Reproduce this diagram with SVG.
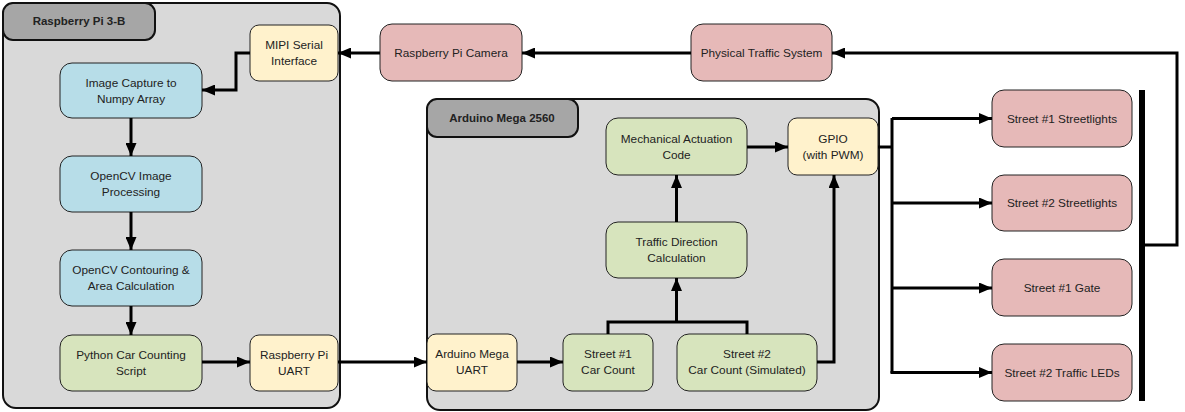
<svg xmlns="http://www.w3.org/2000/svg" width="1185" height="412" viewBox="0 0 1185 412">
<style>
text{font-family:"Liberation Sans",Arial,sans-serif;font-size:11.8px;fill:#222;text-anchor:middle;dominant-baseline:central}
.title{font-weight:bold;font-size:11.5px}
.cont{fill:#d9d9d9;stroke:#111;stroke-width:2}
.tab{fill:#a6a6a6;stroke:#111;stroke-width:2}
.box{stroke:#222;stroke-width:1}
.blue{fill:#b7dde8}.green{fill:#d7e4bd}.yellow{fill:#fff2cc}.pink{fill:#e6b9b8}
.c{fill:none;stroke:#000;stroke-width:3}
</style>
<defs>
<marker id="ah" markerUnits="userSpaceOnUse" markerWidth="13" markerHeight="11" refX="13" refY="5.5" orient="auto"><path d="M0,0 L13,5.5 L0,11 z" fill="#000"/></marker>
</defs>
<g id="rpi-container">
<rect class="cont" x="3" y="3" width="337" height="405" rx="13"/>
<rect class="tab" x="3" y="3" width="152" height="37" rx="10"/>
<text class="title" x="79" y="21">Raspberry Pi 3-B</text>
</g>
<g id="arduino-container">
<rect class="cont" x="427" y="99" width="452" height="311" rx="13"/>
<rect class="tab" x="427" y="99" width="151" height="38" rx="10"/>
<text class="title" x="502" y="118">Arduino Mega 2560</text>
</g>
<g id="mipi"><rect class="box yellow" x="250" y="25" width="88" height="56" rx="9"/><text x="294" y="45">MIPI Serial</text><text x="294" y="61">Interface</text></g>
<g id="capture"><rect class="box blue" x="60" y="63" width="142" height="55" rx="12"/><text x="131" y="82.5">Image Capture to</text><text x="131" y="98.5">Numpy Array</text></g>
<g id="opencv-proc"><rect class="box blue" x="60" y="156" width="142" height="56" rx="12"/><text x="131" y="176">OpenCV Image</text><text x="131" y="192">Processing</text></g>
<g id="opencv-cont"><rect class="box blue" x="60" y="250" width="142" height="56" rx="12"/><text x="131" y="270">OpenCV Contouring &amp;</text><text x="131" y="286">Area Calculation</text></g>
<g id="python"><rect class="box green" x="60" y="335" width="142" height="56" rx="12"/><text x="131" y="355">Python Car Counting</text><text x="131" y="371">Script</text></g>
<g id="rpi-uart"><rect class="box yellow" x="250" y="335" width="88" height="56" rx="9"/><text x="294" y="355">Raspberry Pi</text><text x="294" y="371">UART</text></g>
<g id="camera"><rect class="box pink" x="380" y="24" width="142" height="57" rx="12"/><text x="451" y="53">Raspberry Pi Camera</text></g>
<g id="physical"><rect class="box pink" x="691" y="24" width="141" height="57" rx="12"/><text x="761.5" y="53">Physical Traffic System</text></g>
<g id="mech"><rect class="box green" x="606" y="118" width="141" height="57" rx="12"/><text x="676.5" y="139">Mechanical Actuation</text><text x="676.5" y="155">Code</text></g>
<g id="gpio"><rect class="box yellow" x="788" y="118" width="90" height="57" rx="9"/><text x="833" y="139">GPIO</text><text x="833" y="155">(with PWM)</text></g>
<g id="traffic-dir"><rect class="box green" x="606" y="222" width="141" height="56" rx="12"/><text x="676.5" y="242">Traffic Direction</text><text x="676.5" y="258">Calculation</text></g>
<g id="ard-uart"><rect class="box yellow" x="427" y="334" width="90" height="57" rx="9"/><text x="472" y="354">Arduino Mega</text><text x="472" y="370">UART</text></g>
<g id="s1-count"><rect class="box green" x="563" y="334" width="90" height="57" rx="9"/><text x="608" y="354">Street #1</text><text x="608" y="370">Car Count</text></g>
<g id="s2-count"><rect class="box green" x="677" y="334" width="140" height="57" rx="12"/><text x="747" y="354">Street #2</text><text x="747" y="370">Car Count (Simulated)</text></g>
<g id="s1-lights"><rect class="box pink" x="992" y="90" width="140" height="57" rx="12"/><text x="1062" y="118.5">Street #1 Streetlights</text></g>
<g id="s2-lights"><rect class="box pink" x="992" y="175" width="140" height="56" rx="12"/><text x="1062" y="203">Street #2 Streetlights</text></g>
<g id="s1-gate"><rect class="box pink" x="992" y="259" width="140" height="57" rx="12"/><text x="1062" y="288">Street #1 Gate</text></g>
<g id="s2-leds"><rect class="box pink" x="992" y="344" width="140" height="57" rx="12"/><text x="1062" y="372.5">Street #2 Traffic LEDs</text></g>
<g id="bus"><rect x="1139" y="90" width="6" height="311" fill="#000"/></g>
<g id="connectors">
<path class="c" d="M250,53 H236 V90 H202" marker-end="url(#ah)"/>
<path class="c" d="M131,118 V156" marker-end="url(#ah)"/>
<path class="c" d="M131,212 V250" marker-end="url(#ah)"/>
<path class="c" d="M131,306 V335" marker-end="url(#ah)"/>
<path class="c" d="M202,362 H250" marker-end="url(#ah)"/>
<path class="c" d="M338,362 H427" marker-end="url(#ah)"/>
<path class="c" d="M517,362 H563" marker-end="url(#ah)"/>
<path class="c" d="M608,334 V322 H747 V334"/>
<path class="c" d="M676.5,322 V278" marker-end="url(#ah)"/>
<path class="c" d="M676.5,222 V175" marker-end="url(#ah)"/>
<path class="c" d="M747,147 H788" marker-end="url(#ah)"/>
<path class="c" d="M817,362 H834 V175" marker-end="url(#ah)"/>
<path class="c" d="M878,147 H892"/>
<path class="c" d="M892,118 V373"/>
<path class="c" d="M892,118.5 H992" marker-end="url(#ah)"/>
<path class="c" d="M892,203 H992" marker-end="url(#ah)"/>
<path class="c" d="M892,288 H992" marker-end="url(#ah)"/>
<path class="c" d="M890.5,372.5 H992" marker-end="url(#ah)"/>
<path class="c" d="M1145,245 H1177 V53 H832" marker-end="url(#ah)"/>
<path class="c" d="M691,53 H522" marker-end="url(#ah)"/>
<path class="c" d="M380,53 H338" marker-end="url(#ah)"/>
</g>
</svg>
